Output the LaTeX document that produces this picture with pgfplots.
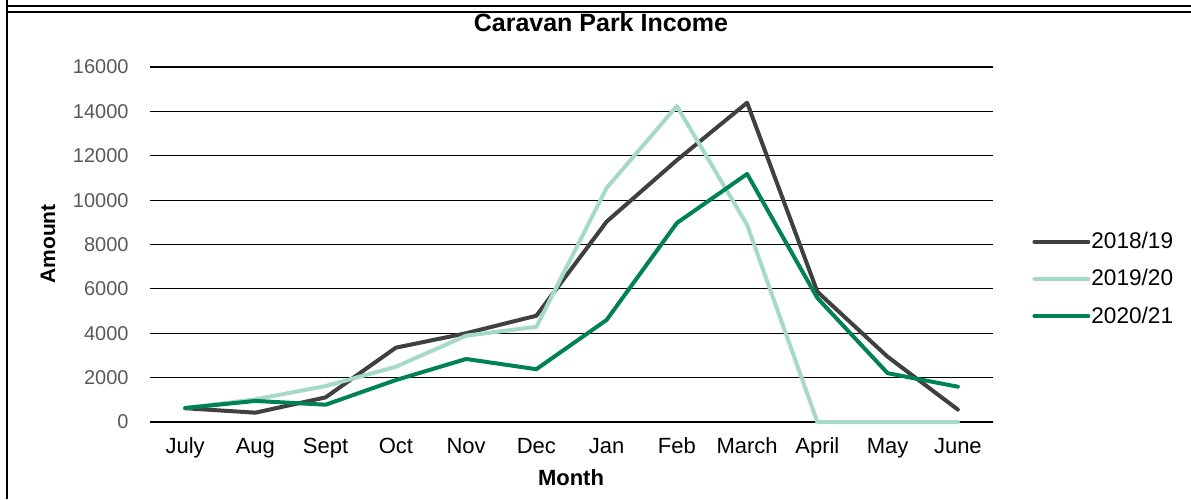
\documentclass[border=0pt]{standalone}
\usepackage{fontspec}
\setmainfont{Liberation Sans}
\usepackage{pgfplots}
\pgfplotsset{compat=1.18}
\definecolor{sdark}{RGB}{64,64,64}
\definecolor{slight}{RGB}{166,217,200}
\definecolor{sgreen}{RGB}{0,130,84}
\definecolor{tickgray}{RGB}{89,89,89}
\begin{document}
\begin{tikzpicture}[x=0.5pt,y=0.5pt]
\useasboundingbox (0,0) rectangle (1191,499);
% frame
\draw[line width=1.1pt] (7,499-6) -- (1191,499-6);
\draw[line width=1.1pt] (7,499-12) -- (1191,499-12);
\draw[line width=1.1pt] (7,0) -- (7,499);
\begin{axis}[
  at={(150pt*0.5,77pt*0.5)}, anchor=south west,
  scale only axis, width=421.5pt, height=177.5pt,
  xmin=-0.5, xmax=11.5, ymin=0, ymax=16000,
  ytick={0,2000,...,16000},
  scaled y ticks=false,
  xtick={0,...,11},
  xticklabels={July,Aug,Sept,Oct,Nov,Dec,Jan,Feb,March,April,May,June},
  axis line style={draw=none},
  major tick length=0pt,
  ymajorgrids, grid style={black, line width=0.6pt},
  /pgf/number format/assume math mode=true,
  /pgf/number format/1000 sep={},
  yticklabel style={font=\fontsize{10}{12}\selectfont, text=tickgray, inner sep=0pt, anchor=east, xshift=-10.5pt},
  xticklabel style={font=\fontsize{11}{12}\selectfont, inner sep=0pt, anchor=base, yshift=-15.5pt},
  legend style={at={(1.0463,0.4028)}, anchor=west, draw=none, fill=none, inner sep=0pt,
     font=\fontsize{11.3}{13}\selectfont, row sep=8pt,
     nodes={inner sep=0.5pt, anchor=west}},
  legend cell align=left,
  legend image code/.code={\draw[#1, line width=2pt] (0pt,0pt) -- (27pt,0pt);},
  every axis plot/.append style={line width=2pt, line join=round, line cap=round},
  clip=false,
]
\addplot[sdark] coordinates {(0,620) (1,420) (2,1110) (3,3350) (4,4000) (5,4790) (6,9030) (7,11800) (8,14390) (9,5870) (10,2940) (11,560)};
\addlegendentry{2018/19}
\addplot[slight] coordinates {(0,630) (1,1020) (2,1620) (3,2490) (4,3890) (5,4290) (6,10550) (7,14240) (8,8880) (9,0) (10,0) (11,0)};
\addlegendentry{2019/20}
\addplot[sgreen] coordinates {(0,630) (1,950) (2,780) (3,1890) (4,2840) (5,2380) (6,4600) (7,8970) (8,11180) (9,5590) (10,2200) (11,1590)};
\addlegendentry{2020/21}
\end{axis}
\node[anchor=base, font=\bfseries\fontsize{12.5}{14}\selectfont, inner sep=0pt] at (601,499-32) {Caravan Park Income};
\node[anchor=base, font=\bfseries\fontsize{11}{12}\selectfont, inner sep=0pt] at (571,499-486) {Month};
\node[rotate=90, font=\bfseries\fontsize{10.5}{12}\selectfont, inner sep=0pt] at (48,499-244) {Amount};
\end{tikzpicture}
\end{document}
